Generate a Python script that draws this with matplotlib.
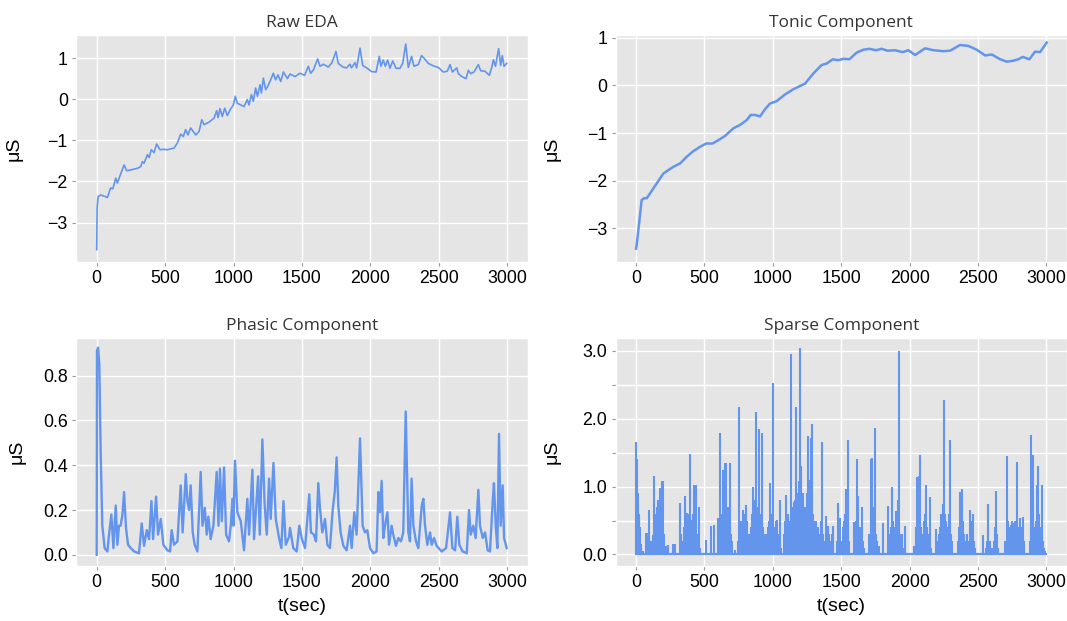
import matplotlib
matplotlib.use('Agg')
import matplotlib.pyplot as plt

# Raw EDA (t in sec, value in uS)
raw_t = [0, 3, 10, 29, 55, 78, 102, 118, 139, 151, 175, 200, 219, 250, 300, 322, 334, 346, 370, 383,
         399, 419, 438, 463, 490, 516, 565, 589, 614, 633, 650, 667, 687, 724, 748, 768, 785, 821, 858, 877,
         887, 901, 918, 936, 955, 975, 999, 1013, 1028, 1053, 1077, 1101, 1113, 1131, 1145, 1162, 1175, 1194, 1204, 1218,
         1235, 1250, 1272, 1291, 1308, 1325, 1345, 1365, 1394, 1413, 1450, 1486, 1520, 1547, 1564, 1584, 1615, 1632, 1657, 1693,
         1718, 1730, 1749, 1766, 1800, 1827, 1851, 1863, 1888, 1900, 1925, 1944, 1973, 2010, 2042, 2066, 2078, 2095, 2110, 2127,
         2144, 2164, 2188, 2217, 2237, 2259, 2278, 2302, 2319, 2351, 2375, 2392, 2424, 2461, 2498, 2534, 2563, 2583, 2600, 2632,
         2644, 2668, 2700, 2717, 2734, 2758, 2790, 2807, 2838, 2870, 2887, 2900, 2915, 2938, 2953, 2965, 2978, 2997]
raw_v = [-3.66, -2.65, -2.37, -2.33, -2.36, -2.39, -2.16, -2.18, -1.92, -2.04, -1.82, -1.6, -1.74, -1.72, -1.68, -1.64, -1.52, -1.56, -1.35, -1.42,
         -1.23, -1.3, -1.09, -1.23, -1.22, -1.23, -1.19, -1.07, -0.85, -0.91, -0.74, -0.87, -0.7, -0.87, -0.79, -0.5, -0.62, -0.56, -0.46, -0.28,
         -0.45, -0.23, -0.42, -0.22, -0.4, -0.26, -0.14, 0.07, -0.1, -0.14, -0.18, -0.01, -0.14, 0.11, -0.05, 0.27, 0.07, 0.35, 0.15, 0.51,
         0.23, 0.31, 0.47, 0.63, 0.47, 0.59, 0.43, 0.66, 0.5, 0.61, 0.55, 0.63, 0.58, 0.8, 0.63, 0.71, 0.98, 0.8, 0.85, 0.78,
         0.88, 0.98, 1.16, 0.87, 0.78, 0.76, 0.85, 0.76, 0.89, 0.76, 1.24, 0.82, 0.76, 0.67, 0.66, 1.04, 0.8, 0.95, 0.8, 0.95,
         0.75, 0.93, 0.75, 0.75, 0.87, 1.34, 0.77, 1.04, 0.8, 0.84, 1.06, 1.0, 0.87, 0.81, 0.77, 0.66, 0.68, 0.84, 0.66, 0.76,
         0.62, 0.55, 0.5, 0.7, 0.62, 0.66, 0.84, 0.69, 0.68, 0.58, 0.76, 0.96, 0.8, 1.23, 0.82, 1.06, 0.8, 0.87]

# Tonic component
tonic_t = [0, 5, 24, 41, 58, 78, 102, 151, 200, 236, 273, 322, 370, 419, 468, 512, 560, 602, 651, 712,
           760, 809, 838, 870, 907, 943, 980, 1028, 1089, 1150, 1236, 1296, 1357, 1394, 1438, 1479, 1516, 1560, 1613, 1662,
           1706, 1755, 1796, 1838, 1894, 1950, 1991, 2040, 2113, 2174, 2247, 2296, 2369, 2430, 2491, 2552, 2601, 2662, 2710, 2759,
           2795, 2827, 2876, 2917, 2954, 3002]
tonic_v = [-3.43, -3.35, -2.86, -2.41, -2.37, -2.37, -2.27, -2.06, -1.85, -1.78, -1.71, -1.64, -1.5, -1.38, -1.29, -1.22, -1.22, -1.15, -1.06, -0.9,
           -0.83, -0.73, -0.62, -0.62, -0.65, -0.5, -0.38, -0.33, -0.19, -0.08, 0.04, 0.25, 0.43, 0.46, 0.55, 0.53, 0.56, 0.55, 0.69, 0.75,
           0.77, 0.74, 0.77, 0.73, 0.74, 0.7, 0.74, 0.64, 0.78, 0.74, 0.72, 0.73, 0.85, 0.83, 0.75, 0.63, 0.65, 0.55, 0.5, 0.52,
           0.55, 0.6, 0.55, 0.71, 0.7, 0.9]

# Phasic component
phasic_t = [0, 2, 10, 19, 29, 41, 58, 78, 90, 107, 122, 139, 151, 163, 175, 188, 200, 214, 229, 249,
            273, 309, 329, 346, 366, 383, 400, 412, 434, 448, 468, 487, 517, 536, 548, 565, 590, 614, 628, 651,
            663, 675, 687, 702, 716, 736, 760, 773, 790, 804, 816, 833, 853, 877, 890, 901, 914, 931, 946, 967,
            980, 992, 999, 1011, 1028, 1053, 1077, 1101, 1114, 1138, 1150, 1180, 1192, 1211, 1228, 1243, 1260, 1272, 1292, 1309,
            1333, 1350, 1365, 1382, 1406, 1413, 1437, 1462, 1481, 1498, 1523, 1540, 1554, 1566, 1588, 1603, 1620, 1632, 1649, 1669,
            1686, 1705, 1725, 1740, 1754, 1766, 1783, 1803, 1827, 1852, 1864, 1883, 1900, 1925, 1944, 1961, 1978, 1998, 2022, 2046,
            2059, 2071, 2083, 2095, 2107, 2125, 2137, 2156, 2168, 2188, 2205, 2224, 2241, 2259, 2278, 2290, 2302, 2315, 2334, 2351,
            2376, 2388, 2400, 2417, 2437, 2449, 2466, 2485, 2522, 2554, 2583, 2600, 2620, 2636, 2651, 2675, 2705, 2722, 2734, 2753,
            2770, 2790, 2802, 2822, 2839, 2858, 2875, 2895, 2904, 2917, 2929, 2941, 2953, 2968, 2978, 2997]
phasic_v = [0.0, 0.91, 0.925, 0.85, 0.45, 0.13, 0.03, 0.015, 0.09, 0.18, 0.03, 0.22, 0.045, 0.13, 0.13, 0.18, 0.28, 0.12, 0.045, 0.03,
            0.015, 0.007, 0.14, 0.04, 0.11, 0.07, 0.24, 0.07, 0.26, 0.09, 0.16, 0.045, 0.02, 0.015, 0.11, 0.045, 0.06, 0.31, 0.1, 0.36,
            0.24, 0.2, 0.31, 0.1, 0.045, 0.015, 0.37, 0.13, 0.21, 0.09, 0.17, 0.07, 0.13, 0.37, 0.13, 0.385, 0.15, 0.39, 0.09, 0.06,
            0.13, 0.25, 0.13, 0.42, 0.19, 0.15, 0.02, 0.25, 0.09, 0.38, 0.07, 0.35, 0.09, 0.515, 0.22, 0.09, 0.34, 0.16, 0.41, 0.16,
            0.075, 0.03, 0.24, 0.045, 0.08, 0.12, 0.03, 0.015, 0.13, 0.075, 0.03, 0.16, 0.27, 0.1, 0.09, 0.06, 0.32, 0.21, 0.1, 0.16,
            0.045, 0.03, 0.2, 0.28, 0.435, 0.22, 0.1, 0.04, 0.02, 0.13, 0.03, 0.19, 0.09, 0.52, 0.13, 0.1, 0.11, 0.03, 0.007, 0.015,
            0.28, 0.19, 0.33, 0.075, 0.13, 0.19, 0.045, 0.13, 0.09, 0.04, 0.075, 0.06, 0.1, 0.64, 0.1, 0.06, 0.34, 0.13, 0.06, 0.03,
            0.22, 0.25, 0.13, 0.045, 0.1, 0.045, 0.075, 0.04, 0.015, 0.03, 0.19, 0.03, 0.02, 0.17, 0.045, 0.015, 0.007, 0.2, 0.09, 0.13,
            0.075, 0.29, 0.13, 0.075, 0.1, 0.02, 0.015, 0.24, 0.32, 0.13, 0.03, 0.54, 0.13, 0.31, 0.075, 0.03]

# Sparse component: large spikes
sparse_t = [0, 10, 17, 24, 34, 54, 73, 83, 97, 122, 134, 163, 178, 188, 197, 219, 236, 268, 285, 322,
            358, 375, 395, 407, 424, 436, 463, 512, 546, 570, 602, 614, 638, 648, 658, 687, 724, 755, 780, 804,
            853, 875, 899, 924, 980, 1004, 1028, 1053, 1097, 1133, 1158, 1170, 1192, 1199, 1209, 1255, 1277, 1289, 1357, 1389,
            1406, 1438, 1442, 1479, 1491, 1532, 1547, 1593, 1613, 1625, 1652, 1715, 1727, 1747, 1776, 1803, 1844, 1873, 1900, 1922,
            1966, 2032, 2046, 2056, 2066, 2076, 2119, 2149, 2193, 2241, 2253, 2295, 2368, 2380, 2441, 2465, 2539, 2570, 2629, 2709,
            2738, 2765, 2782, 2807, 2826, 2890, 2899, 2929, 2938, 2965, 2990]
sparse_h = [1.66, 1.2, 0.78, 0.56, 0.15, 0.05, 0.32, 0.32, 0.65, 0.29, 1.15, 0.81, 0.98, 1.08, 1.09, 0.12, 0.14, 0.15, 0.16, 0.76,
            0.86, 0.61, 1.48, 0.51, 1.03, 1.03, 0.7, 0.22, 0.42, 0.44, 0.54, 1.79, 1.25, 1.35, 1.35, 1.35, 0.07, 2.17, 0.66, 0.73,
            1.0, 2.1, 1.85, 1.79, 1.05, 2.52, 0.51, 0.81, 0.88, 2.95, 0.78, 2.17, 1.08, 3.04, 1.27, 1.74, 1.72, 1.92, 1.66, 0.56,
            0.42, 0.42, 0.42, 0.76, 0.54, 0.97, 1.68, 0.48, 1.41, 0.86, 0.7, 1.4, 1.42, 1.86, 0.12, 0.46, 0.72, 0.99, 0.64, 3.0,
            0.42, 0.12, 0.2, 1.14, 1.15, 1.47, 1.03, 0.84, 0.37, 0.74, 2.28, 1.69, 0.92, 0.96, 0.66, 0.59, 0.29, 0.75, 0.94, 1.45,
            0.44, 0.47, 1.36, 0.54, 0.55, 1.76, 1.47, 1.03, 1.3, 1.03, 0.05]

# Sparse component: small spikes filling the busy stretches
small_t = [4, 7, 13, 20, 28, 40, 78, 88, 92, 102, 110, 116, 128, 140, 146, 152, 158, 170, 183, 192,
           203, 330, 340, 350, 365, 380, 388, 400, 412, 418, 430, 442, 450, 456, 470, 606, 620, 626, 632, 643,
           653, 664, 670, 676, 682, 693, 700, 745, 760, 768, 774, 786, 792, 798, 810, 816, 824, 832, 840, 846,
           860, 866, 882, 888, 894, 906, 912, 918, 930, 940, 948, 956, 964, 972, 988, 996, 1010, 1016, 1022, 1036,
           1044, 1060, 1085, 1090, 1104, 1110, 1118, 1126, 1140, 1146, 1152, 1164, 1178, 1185, 1204, 1214, 1220, 1226, 1232, 1240,
           1247, 1262, 1268, 1283, 1295, 1302, 1310, 1318, 1326, 1334, 1342, 1350, 1364, 1372, 1395, 1412, 1420, 1430, 1470, 1485,
           1500, 1510, 1518, 1525, 1540, 1553, 1560, 1600, 1606, 1620, 1632, 1640, 1645, 1660, 1670, 1705, 1720, 1733, 1740, 1753,
           1760, 1850, 1858, 1866, 1880, 1888, 1895, 1905, 1912, 1928, 1935, 1944, 1955, 2040, 2050, 2060, 2070, 2083, 2090, 2098,
           2105, 2112, 2126, 2134, 2142, 2155, 2205, 2215, 2225, 2232, 2246, 2260, 2268, 2275, 2282, 2288, 2302, 2310, 2356, 2362,
           2374, 2386, 2392, 2400, 2410, 2420, 2430, 2448, 2458, 2472, 2480, 2555, 2564, 2576, 2590, 2600, 2616, 2622, 2636, 2645,
           2700, 2716, 2724, 2730, 2745, 2752, 2758, 2772, 2788, 2795, 2800, 2814, 2820, 2833, 2840, 2880, 2885, 2894, 2905, 2912,
           2920, 2925, 2945, 2952, 2958, 2972, 2980]
small_h = [0.9, 1.4, 0.9, 0.6, 0.4, 0.1, 0.2, 0.3, 0.25, 0.15, 0.2, 0.1, 0.3, 0.5, 0.6, 0.7, 0.4, 0.8, 0.5, 0.6,
           0.3, 0.3, 0.2, 0.4, 0.5, 0.6, 0.5, 0.4, 0.3, 0.6, 0.7, 0.5, 0.3, 0.2, 0.1, 0.3, 0.4, 0.6, 0.5, 0.8,
           0.9, 0.5, 0.6, 0.7, 0.4, 0.3, 0.2, 0.2, 0.3, 0.5, 0.4, 0.5, 0.6, 0.4, 0.5, 0.3, 0.2, 0.3, 0.4, 0.6,
           0.5, 0.8, 0.6, 0.7, 0.5, 0.4, 0.6, 0.5, 0.4, 0.3, 0.2, 0.3, 0.4, 0.5, 0.6, 0.5, 0.4, 0.3, 0.5, 0.3,
           0.2, 0.1, 0.3, 0.5, 0.4, 0.6, 0.3, 0.5, 0.7, 0.5, 0.6, 0.8, 0.7, 0.9, 1.3, 0.6, 0.9, 0.5, 0.7, 0.6,
           0.9, 1.1, 0.7, 0.8, 0.6, 0.5, 0.4, 0.5, 0.3, 0.4, 0.3, 0.5, 0.3, 0.2, 0.2, 0.3, 0.2, 0.3, 0.2, 0.3,
           0.2, 0.4, 0.5, 0.6, 0.5, 0.4, 0.2, 0.3, 0.5, 0.6, 0.4, 0.3, 0.4, 0.2, 0.1, 0.3, 0.6, 0.7, 0.5, 0.3,
           0.2, 0.2, 0.3, 0.4, 0.5, 0.3, 0.4, 0.3, 0.8, 0.3, 0.2, 0.3, 0.1, 0.1, 0.4, 0.8, 0.7, 0.4, 0.3, 0.2,
           0.5, 0.6, 0.4, 0.3, 0.2, 0.1, 0.2, 0.3, 0.4, 0.6, 0.7, 0.6, 0.5, 0.3, 0.4, 0.6, 0.3, 0.2, 0.2, 0.4,
           0.6, 0.7, 0.5, 0.3, 0.2, 0.3, 0.2, 0.5, 0.4, 0.2, 0.1, 0.1, 0.2, 0.4, 0.2, 0.1, 0.2, 0.4, 0.3, 0.1,
           0.2, 0.5, 0.4, 0.3, 0.4, 0.5, 0.3, 0.5, 0.5, 0.4, 0.3, 0.4, 0.3, 0.2, 0.1, 0.2, 0.5, 0.9, 0.7, 0.4,
           0.3, 0.5, 0.6, 0.4, 0.3, 0.2, 0.1]

line_color = '#6495ED'

plt.style.use('ggplot')
fig = plt.figure(figsize=(10.67, 6.21), dpi=100)

W, H = 1067.0, 621.0
def make_ax(left, top, right, bottom):
    return fig.add_axes([left / W, 1 - bottom / H, (right - left) / W, (bottom - top) / H])

ax1 = make_ax(76.2, 35, 527.6, 262)
ax2 = make_ax(615.5, 35, 1066.9, 262)
ax3 = make_ax(76.2, 338, 527.6, 566)
ax4 = make_ax(615.5, 338, 1066.9, 566)

ax1.plot(raw_t, raw_v, color=line_color, lw=1.2)
ax2.plot(tonic_t, tonic_v, color=line_color, lw=1.8)
ax3.plot(phasic_t, phasic_v, color=line_color, lw=1.7)
ax4.vlines(sparse_t, 0, sparse_h, color=line_color, lw=1.5)
ax4.vlines(small_t, 0, small_h, color=line_color, lw=1.5)
ax4.plot([0, 3000], [0, 0], color=line_color, lw=1.6)

ax1.set_ylim(-3.96, 1.56)
ax2.set_ylim(-3.71, 1.06)
ax3.set_ylim(-0.05, 0.968)
ax4.set_ylim(-0.17, 3.19)

ax1.set_yticks([-3, -2, -1, 0, 1])
ax2.set_yticks([-3, -2, -1, 0, 1])
ax3.set_yticks([0.0, 0.2, 0.4, 0.6, 0.8])
ax3.set_yticklabels(['0.0', '0.2', '0.4', '0.6', '0.8'])
ax4.set_yticks([0.0, 0.5, 1.0, 1.5, 2.0, 2.5, 3.0])
ax4.set_yticklabels(['0.0', '', '1.0', '', '2.0', '', '3.0'])

titles = ['Raw EDA', 'Tonic Component', 'Phasic Component', 'Sparse Component']
lab_x = [-0.119, -0.122, -0.111, -0.122]
for ax, ttl, lx in zip([ax1, ax2, ax3, ax4], titles, lab_x):
    ax.set_xlim(-150, 3150)
    ax.set_xticks([0, 500, 1000, 1500, 2000, 2500, 3000])
    ax.set_title(ttl, fontsize=12.5, color='#333333', pad=6, family='Open Sans')
    ax.tick_params(labelsize=12.8, labelcolor='black', length=3, color='#999999', pad=3)
    for lbl in ax.get_xticklabels() + ax.get_yticklabels():
        lbl.set_family('Liberation Sans')
    ax.set_ylabel('μS', fontsize=14, color='black', family='Liberation Sans')
    ax.yaxis.set_label_coords(lx, 0.5)
    ax.grid(True, color='white', lw=1.0)

for ax in [ax3, ax4]:
    ax.set_xlabel('t(sec)', fontsize=14, color='black', family='Liberation Sans', labelpad=5)

fig.savefig('out.png', dpi=100)
